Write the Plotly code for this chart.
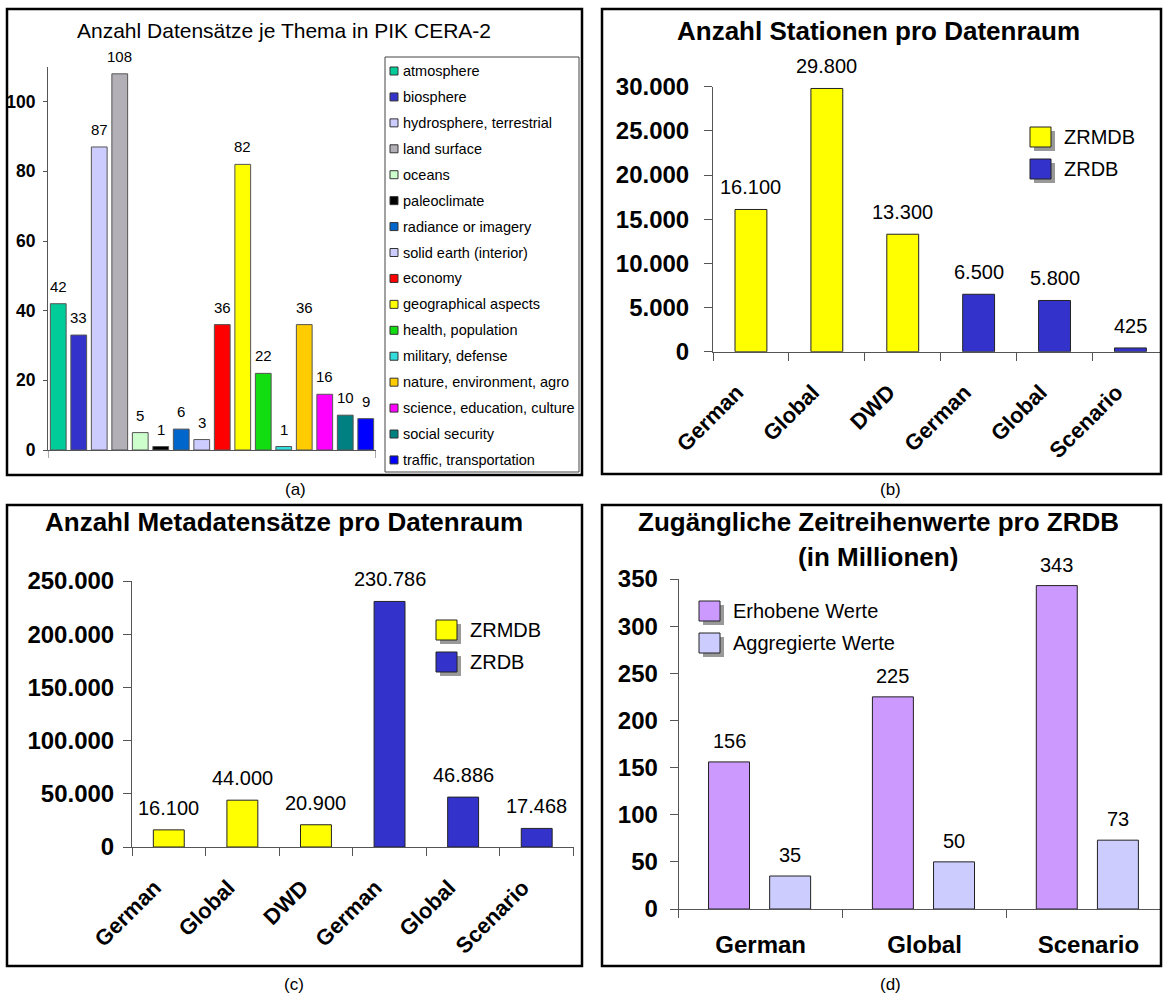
import plotly.graph_objects as go

W, H = 1164, 998
FONT = "Liberation Sans, Arial, Helvetica, sans-serif"

# ---------------- data ----------------
themes = ["atmosphere", "biosphere", "hydrosphere, terrestrial", "land surface", "oceans",
          "paleoclimate", "radiance or imagery", "solid earth (interior)", "economy",
          "geographical aspects", "health, population", "military, defense",
          "nature, environment, agro", "science, education, culture", "social security",
          "traffic, transportation"]
theme_counts = [42, 33, 87, 108, 5, 1, 6, 3, 36, 82, 22, 1, 36, 16, 10, 9]
theme_colors = ["#00CC99", "#3333CC", "#CCCCFF", "#B2B0B6", "#CCFFCC", "#000000", "#0066CC",
                "#CCCCFF", "#FF0000", "#FFFF00", "#11DD11", "#33DDDD", "#FFCC00", "#FF00FF",
                "#008080", "#0000FF"]

space_labels = ["German", "Global", "DWD", "German", "Global", "Scenario"]
space_db = ["ZRMDB", "ZRMDB", "ZRMDB", "ZRDB", "ZRDB", "ZRDB"]
stations = [16100, 29800, 13300, 6500, 5800, 425]
metadata_records = [16100, 44000, 20900, 230786, 46886, 17468]
db_names = ["ZRMDB", "ZRDB"]
db_colors = ["#FFFF00", "#3333CC"]

zrdb_labels = ["German", "Global", "Scenario"]
collected_values = [156, 225, 343]
aggregated_values = [35, 50, 73]
value_names = ["Erhobene Werte", "Aggregierte Werte"]
value_colors = ["#CC99FF", "#CCCCFF"]

title_a = "Anzahl Datensätze je Thema in PIK CERA-2"
title_b = "Anzahl Stationen pro Datenraum"
title_c = "Anzahl Metadatensätze pro Datenraum"
title_d1 = "Zugängliche Zeitreihenwerte pro ZRDB"
title_d2 = "(in Millionen)"
captions = ["(a)", "(b)", "(c)", "(d)"]


def X(p):
    return p / W


def Y(p):
    return 1 - p / H


def fmt(v):
    return f"{v:,}".replace(",", ".")


fig = go.Figure()
shapes = []
annos = []


def txt(x, y, s, size, bold=False, xanchor="center", **kw):
    annos.append(dict(x=X(x), y=Y(y), xref="paper", yref="paper", text=s, showarrow=False,
                      xanchor=xanchor, yanchor="middle",
                      font=dict(family=FONT, size=size, color="black",
                                weight="bold" if bold else "normal"), **kw))


def rect(x0, y0, x1, y1, fill=None, line="black", lw=1):
    shapes.append(dict(type="rect", xref="paper", yref="paper", x0=X(x0), x1=X(x1),
                       y0=Y(y1), y1=Y(y0), fillcolor=fill,
                       line=dict(color=line, width=lw)))


AX = "#555555"

def yax(dom_bottom, dom_top, rng, tickvals, size, ticklen, anchor, standoff, fmtstr=None):
    d = dict(domain=[Y(dom_bottom), Y(dom_top)], range=rng, tickvals=tickvals,
             showline=True, linecolor=AX, linewidth=1, ticks="outside", ticklen=ticklen,
             tickcolor=AX, showgrid=False, zeroline=False, anchor=anchor,
             ticklabelstandoff=standoff,
             tickfont=dict(family=FONT, size=size, color="black", weight="bold"))
    if fmtstr:
        d["tickformat"] = fmtstr
    return d


# ---------------- (a) ----------------
fig.add_trace(go.Bar(x=list(range(len(themes))), y=theme_counts, width=0.77,
                     marker=dict(color=theme_colors, line=dict(color="#555555", width=1)),
                     xaxis="x", yaxis="y", showlegend=False, hovertext=themes))
for i, v in enumerate(theme_counts):
    annos.append(dict(x=i, y=v, xref="x", yref="y", text=str(v), showarrow=False,
                      yanchor="middle", yshift=17.5,
                      font=dict(family=FONT, size=15, color="black")))
shapes.append(dict(type="line", xref="x", yref="paper", x0=-0.5, x1=-0.5, y0=Y(450), y1=Y(458),
                   line=dict(color=AX, width=1)))
shapes.append(dict(type="line", xref="x", yref="paper", x0=15.5, x1=15.5, y0=Y(450), y1=Y(458),
                   line=dict(color=AX, width=1)))
txt(284, 30, title_a, 21)
rect(385, 57, 579, 472, line="#444444", lw=1)
for i, (name, col) in enumerate(zip(themes, theme_colors)):
    yc = 71 + i * 25.93
    rect(390, yc - 4, 398, yc + 4, fill=col, line="#333333", lw=1)
    txt(401, yc, name, 14.5, xanchor="left")

# ---------------- (b) and (c) ----------------
keys = [f"{d} {l}" for d, l in zip(space_db, space_labels)]


def space_panel(values, xa, ya):
    for name, col in zip(db_names, db_colors):
        xs = [k for k, d in zip(keys, space_db) if d == name]
        ys = [v for v, d in zip(values, space_db) if d == name]
        fig.add_trace(go.Bar(x=xs, y=ys, name=name, width=0.42, offset=-0.21,
                             marker=dict(color=col, line=dict(color="#222222", width=1)),
                             xaxis=xa, yaxis=ya, showlegend=False))
    for k, v in zip(keys, values):
        annos.append(dict(x=k, y=v, xref=xa, yref=ya, text=fmt(v), showarrow=False,
                          yanchor="middle", yshift=22,
                          font=dict(family=FONT, size=20, color="black")))


space_panel(stations, "x2", "y2")
space_panel(metadata_records, "x3", "y3")


def legend2(x0, ys, names, colors):
    for yc, name, col in zip(ys, names, colors):
        rect(x0 + 4, yc - 10 + 4, x0 + 21 + 4, yc + 10 + 4, fill="#999999", line="#999999", lw=0)
        rect(x0, yc - 10, x0 + 21, yc + 10, fill=col, line="#222222", lw=1)
        txt(x0 + 32, yc, name, 20, xanchor="left")


txt(878, 31, title_b, 26, bold=True)
legend2(1030, [137, 169], db_names, db_colors)
txt(284, 522, title_c, 26, bold=True)
legend2(436, [630, 662], db_names, db_colors)

# ---------------- (d) ----------------
for vals, name, col, off in zip([collected_values, aggregated_values], value_names,
                                value_colors, [-0.318, 0.055]):
    fig.add_trace(go.Bar(x=zrdb_labels, y=vals, name=name, width=0.25, offset=off,
                         marker=dict(color=col, line=dict(color="#222222", width=1)),
                         xaxis="x4", yaxis="y4", showlegend=False))
    for i, v in enumerate(vals):
        annos.append(dict(x=i + off + 0.125, y=v, xref="x4", yref="y4", text=str(v),
                          showarrow=False, yanchor="middle", yshift=21,
                          font=dict(family=FONT, size=20, color="black")))
txt(878, 522, title_d1, 26, bold=True)
txt(878, 557, title_d2, 26, bold=True)
legend2(699, [611, 643], value_names, value_colors)

# ---------------- frames & captions ----------------
rect(7, 9, 582, 475, lw=2.5)
rect(602, 9, 1161, 474, lw=2.5)
rect(7, 505, 582, 966, lw=2.5)
rect(602, 505, 1161, 966, lw=2.5)
txt(295, 490, captions[0], 17)
txt(891, 490, captions[1], 17)
txt(294, 984, captions[2], 17)
txt(891, 984, captions[3], 17)

xcat = dict(showline=True, linecolor=AX, linewidth=1, ticks="outside", tickson="boundaries",
            ticklen=8, tickcolor=AX, showgrid=False, zeroline=False)

fig.update_layout(
    width=W, height=H, margin=dict(l=0, r=0, t=0, b=0, autoexpand=False),
    paper_bgcolor="white", plot_bgcolor="rgba(0,0,0,0)",
    barmode="overlay", separators=",.", showlegend=False,
    font=dict(family=FONT, color="black"),
    xaxis=dict(domain=[X(48), X(376)], range=[-0.5, 15.5], showline=True, linecolor=AX,
               showticklabels=False, ticks="", showgrid=False, zeroline=False, anchor="y"),
    yaxis=yax(450, 450 - 110 * 3.483, [0, 110], [0, 20, 40, 60, 80, 100], 17.5, 4, "x", 4),
    xaxis2=dict(domain=[X(713), X(1162)], range=[-0.5, 5.416], type="category",
                categoryorder="array", categoryarray=keys, tickvals=keys, ticktext=space_labels,
                tickangle=-45, anchor="y2", ticklabelstandoff=18, ticklabelshift=-14,
                tickfont=dict(family=FONT, size=22, color="black", weight="bold"), **xcat),
    yaxis2=yax(351.7, 86.7, [0, 30000], list(range(0, 30001, 5000)), 24, 8, "x2", 10, ",.0f"),
    xaxis3=dict(domain=[X(132), X(573.5)], range=[-0.5, 5.5], type="category",
                categoryorder="array", categoryarray=keys, tickvals=keys, ticktext=space_labels,
                tickangle=-45, anchor="y3", ticklabelstandoff=18, ticklabelshift=-14,
                tickfont=dict(family=FONT, size=22, color="black", weight="bold"), **xcat),
    yaxis3=yax(847, 581, [0, 250000], list(range(0, 250001, 50000)), 24, 8, "x3", 4, ",.0f"),
    xaxis4=dict(domain=[X(678.7), X(1162)], range=[-0.5, 2.449], type="category",
                categoryorder="array", categoryarray=zrdb_labels, anchor="y4",
                ticklabelstandoff=14,
                tickfont=dict(family=FONT, size=24, color="black", weight="bold"), **xcat),
    yaxis4=yax(909, 579, [0, 350], list(range(0, 351, 50)), 24, 8, "x4", 7),
    shapes=shapes, annotations=annos,
)

fig.write_html("out.html", config={"displayModeBar": False},
               post_script="document.body.style.margin='0';document.body.style.overflow='hidden';")
